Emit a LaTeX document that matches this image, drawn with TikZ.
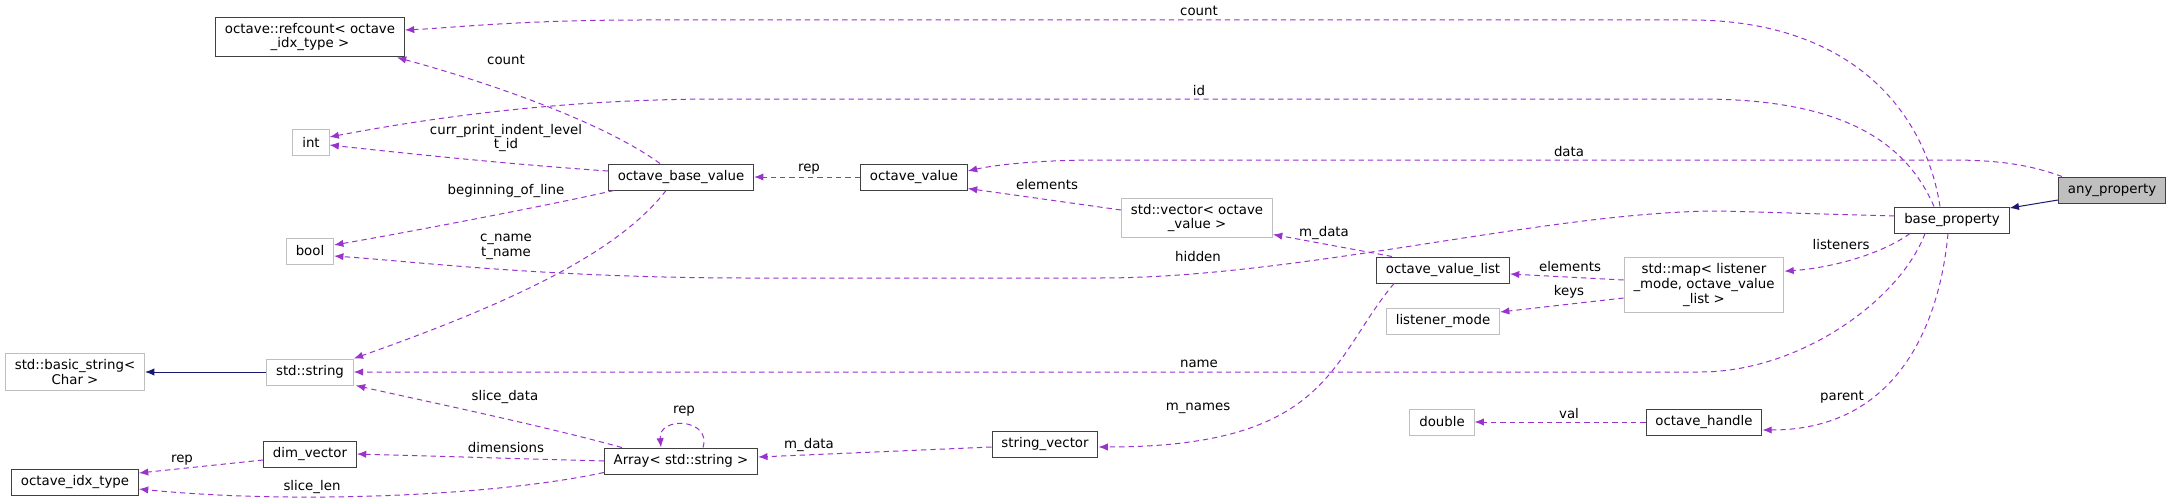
\documentclass[tikz,border=0pt]{standalone}
\usepackage{fontspec}
\setmainfont{DejaVu Sans}
\usetikzlibrary{arrows.meta,calc}
\definecolor{orchid}{HTML}{9A32CD}
\definecolor{mblau}{HTML}{191970}
\definecolor{grau}{HTML}{BFBFBF}
\definecolor{rand}{HTML}{404040}
\tikzset{
  kl/.style={draw=rand,line width=0.75pt,fill=white,align=center,inner xsep=7pt,inner ysep=4.5pt,
    minimum height=19.5pt,font=\fontsize{10}{11}\selectfont},
  klg/.style={kl,draw=grau},
  akt/.style={kl,fill=grau},
  dep/.style={-{Latex[length=7pt,width=5.5pt]},orchid,line width=0.75pt,dash pattern=on 4pt off 3pt},
  erbt/.style={-{Latex[length=7pt,width=5.5pt]},mblau,line width=0.75pt},
  lbl/.style={text=black,font=\fontsize{10}{11}\selectfont,inner sep=1pt,align=center},
}

\begin{document}
\begin{tikzpicture}[x=0.75pt,y=-0.75pt]
  \useasboundingbox (0,0) rectangle (2172,503);
  % klassen
  \node[kl]  (rc)    at (310,37)   {octave::refcount< octave\\\_idx\_type >};
  \node[klg] (int)   at (311,142)  {int};
  \node[klg] (bool)  at (310,251)  {bool};
  \node[klg] (bstr)  at (75,372)   {std::basic\_string<\\Char >};
  \node[klg] (str)   at (310,372)  {std::string};
  \node[kl]  (idx)   at (75,482)   {octave\_idx\_type};
  \node[kl]  (dimv)  at (310,454)  {dim\_vector};
  \node[kl]  (arr)   at (681,461)  {Array< std::string >};
  \node[kl]  (obv)   at (681,177)  {octave\_base\_value};
  \node[kl]  (ov)    at (914,177)  {octave\_value};
  \node[klg] (vec)   at (1197,218) {std::vector< octave\\\_value >};
  \node[kl]  (ovl)   at (1443,270) {octave\_value\_list};
  \node[klg] (map)   at (1704,285) {std::map< listener\\\_mode, octave\_value\\\_list >};
  \node[klg] (lmode) at (1443,321) {listener\_mode};
  \node[klg] (dbl)   at (1442,422) {double};
  \node[kl]  (oh)    at (1704,422) {octave\_handle};
  \node[kl]  (sv)    at (1045,444) {string\_vector};
  \node[kl]  (bp)    at (1952,220) {base\_property};
  \node[akt] (anyp)  at (2112,190) {any\_property};

  % vererbung
  \draw[erbt] (str.west) -- (bstr.east);
  \draw[erbt] ($(anyp.west)+(0,10)$) -- ($(bp.east)+(0,-12)$);

  % member von base_property
  \draw[dep] ($(bp.north)+(-12,0)$) .. controls (1925,110) and (1850,20) .. (1690,20) -- (640,20)
    .. controls (520,20) and (450,28) .. ($(rc.east)+(0,-7)$) node[lbl] at (1199,11) {count};
  \draw[dep] ($(bp.north)+(-18,0)$) .. controls (1905,140) and (1840,99) .. (1700,99) -- (720,99)
    .. controls (560,99) and (430,118) .. ($(int.east)+(0,-5)$) node[lbl] at (1199,91) {id};
  \draw[dep] ($(bp.west)+(0,-4)$) -- (1720,211) .. controls (1550,211) and (1300,278) .. (1100,278)
    -- (750,278) .. controls (550,278) and (420,262) .. ($(bool.east)+(0,5)$) node[lbl] at (1198,257) {hidden};
  \draw[dep] ($(bp.south)+(-27,0)$) .. controls (1900,300) and (1800,372) .. (1700,372) -- (str.east)
    node[lbl] at (1199,364) {name};
  \draw[dep] ($(bp.south)+(-42,0)$) .. controls (1880,255) and (1830,268) .. ($(map.north east)+(0,14)$)
    node[lbl] at (1841,245) {listeners};
  \draw[dep] ($(bp.south)+(-4,0)$) .. controls (1940,320) and (1900,430) .. ($(oh.east)+(0,8)$)
    node[lbl] at (1842,397) {parent};
  \draw[dep] ($(anyp.north west)+(4,0)$) .. controls (2030,165) and (2000,160) .. (1950,160) -- (1100,160)
    .. controls (1030,160) and (990,166) .. ($(ov.east)+(0,-6)$) node[lbl] at (1569,152) {data};

  % octave_value und octave_base_value
  \draw[dep] (ov.west) -- (obv.east) node[lbl] at (809,169) {rep};
  \draw[dep] ($(obv.north)+(-21,0)$) .. controls (600,120) and (480,80) .. ($(rc.south east)+(-8,0)$)
    node[lbl] at (506,60) {count};
  \draw[dep] ($(obv.west)+(0,-6)$) .. controls (520,165) and (420,155) .. ($(int.east)+(0,3)$)
    node[lbl] at (506,138) {curr\_print\_indent\_level\\t\_id};
  \draw[dep] ($(obv.south west)+(6,0)$) .. controls (550,205) and (420,230) .. ($(bool.east)+(0,-6)$)
    node[lbl] at (506,191) {beginning\_of\_line};
  \draw[dep] ($(obv.south)+(-15,0)$) .. controls (620,250) and (520,300) .. (str.north east)
    node[lbl] at (506,247) {c\_name\\t\_name};

  % listen und container
  \draw[dep] ($(vec.west)+(0,-8)$) -- ($(ov.south east)+(0,-2)$) node[lbl] at (1047,185) {elements};
  \draw[dep] ($(ovl.north west)+(16,0)$) -- ($(vec.south east)+(0,-4)$) node[lbl] at (1324,233) {m\_data};
  \draw[dep] ($(map.west)+(0,-5)$) -- ($(ovl.east)+(0,4)$) node[lbl] at (1570,267) {elements};
  \draw[dep] ($(map.west)+(0,13)$) -- ($(lmode.east)+(0,-9)$) node[lbl] at (1569,292) {keys};
  \draw[dep] ($(ovl.south west)+(18,0)$) .. controls (1330,360) and (1330,447) .. ($(sv.east)+(0,3)$)
    node[lbl] at (1198,408) {m\_names};
  \draw[dep] (oh.west) -- (dbl.east) node[lbl] at (1569,414) {val};

  % Array
  \draw[dep] ($(sv.west)+(0,3)$) -- ($(arr.east)+(0,-4)$) node[lbl] at (809,445) {m\_data};
  \draw[dep] ($(arr.north)+(22,0)$) .. controls (712,418) and (658,416) .. ($(arr.north)+(-20,0)$)
    node[lbl] at (684,411) {rep};
  \draw[dep] ($(arr.north west)+(18,0)$) .. controls (540,425) and (420,400) .. ($(str.south east)+(2,0)$)
    node[lbl] at (505,397) {slice\_data};
  \draw[dep] (arr.west) -- (dimv.east) node[lbl] at (506,448) {dimensions};
  \draw[dep] ($(arr.south west)+(0,-2)$) .. controls (500,495) and (300,505) .. ($(idx.east)+(0,7)$)
    node[lbl] at (312,487) {slice\_len};
  \draw[dep] ($(dimv.west)+(0,6)$) -- ($(idx.east)+(0,-9)$) node[lbl] at (182,460) {rep};
\end{tikzpicture}
\end{document}
